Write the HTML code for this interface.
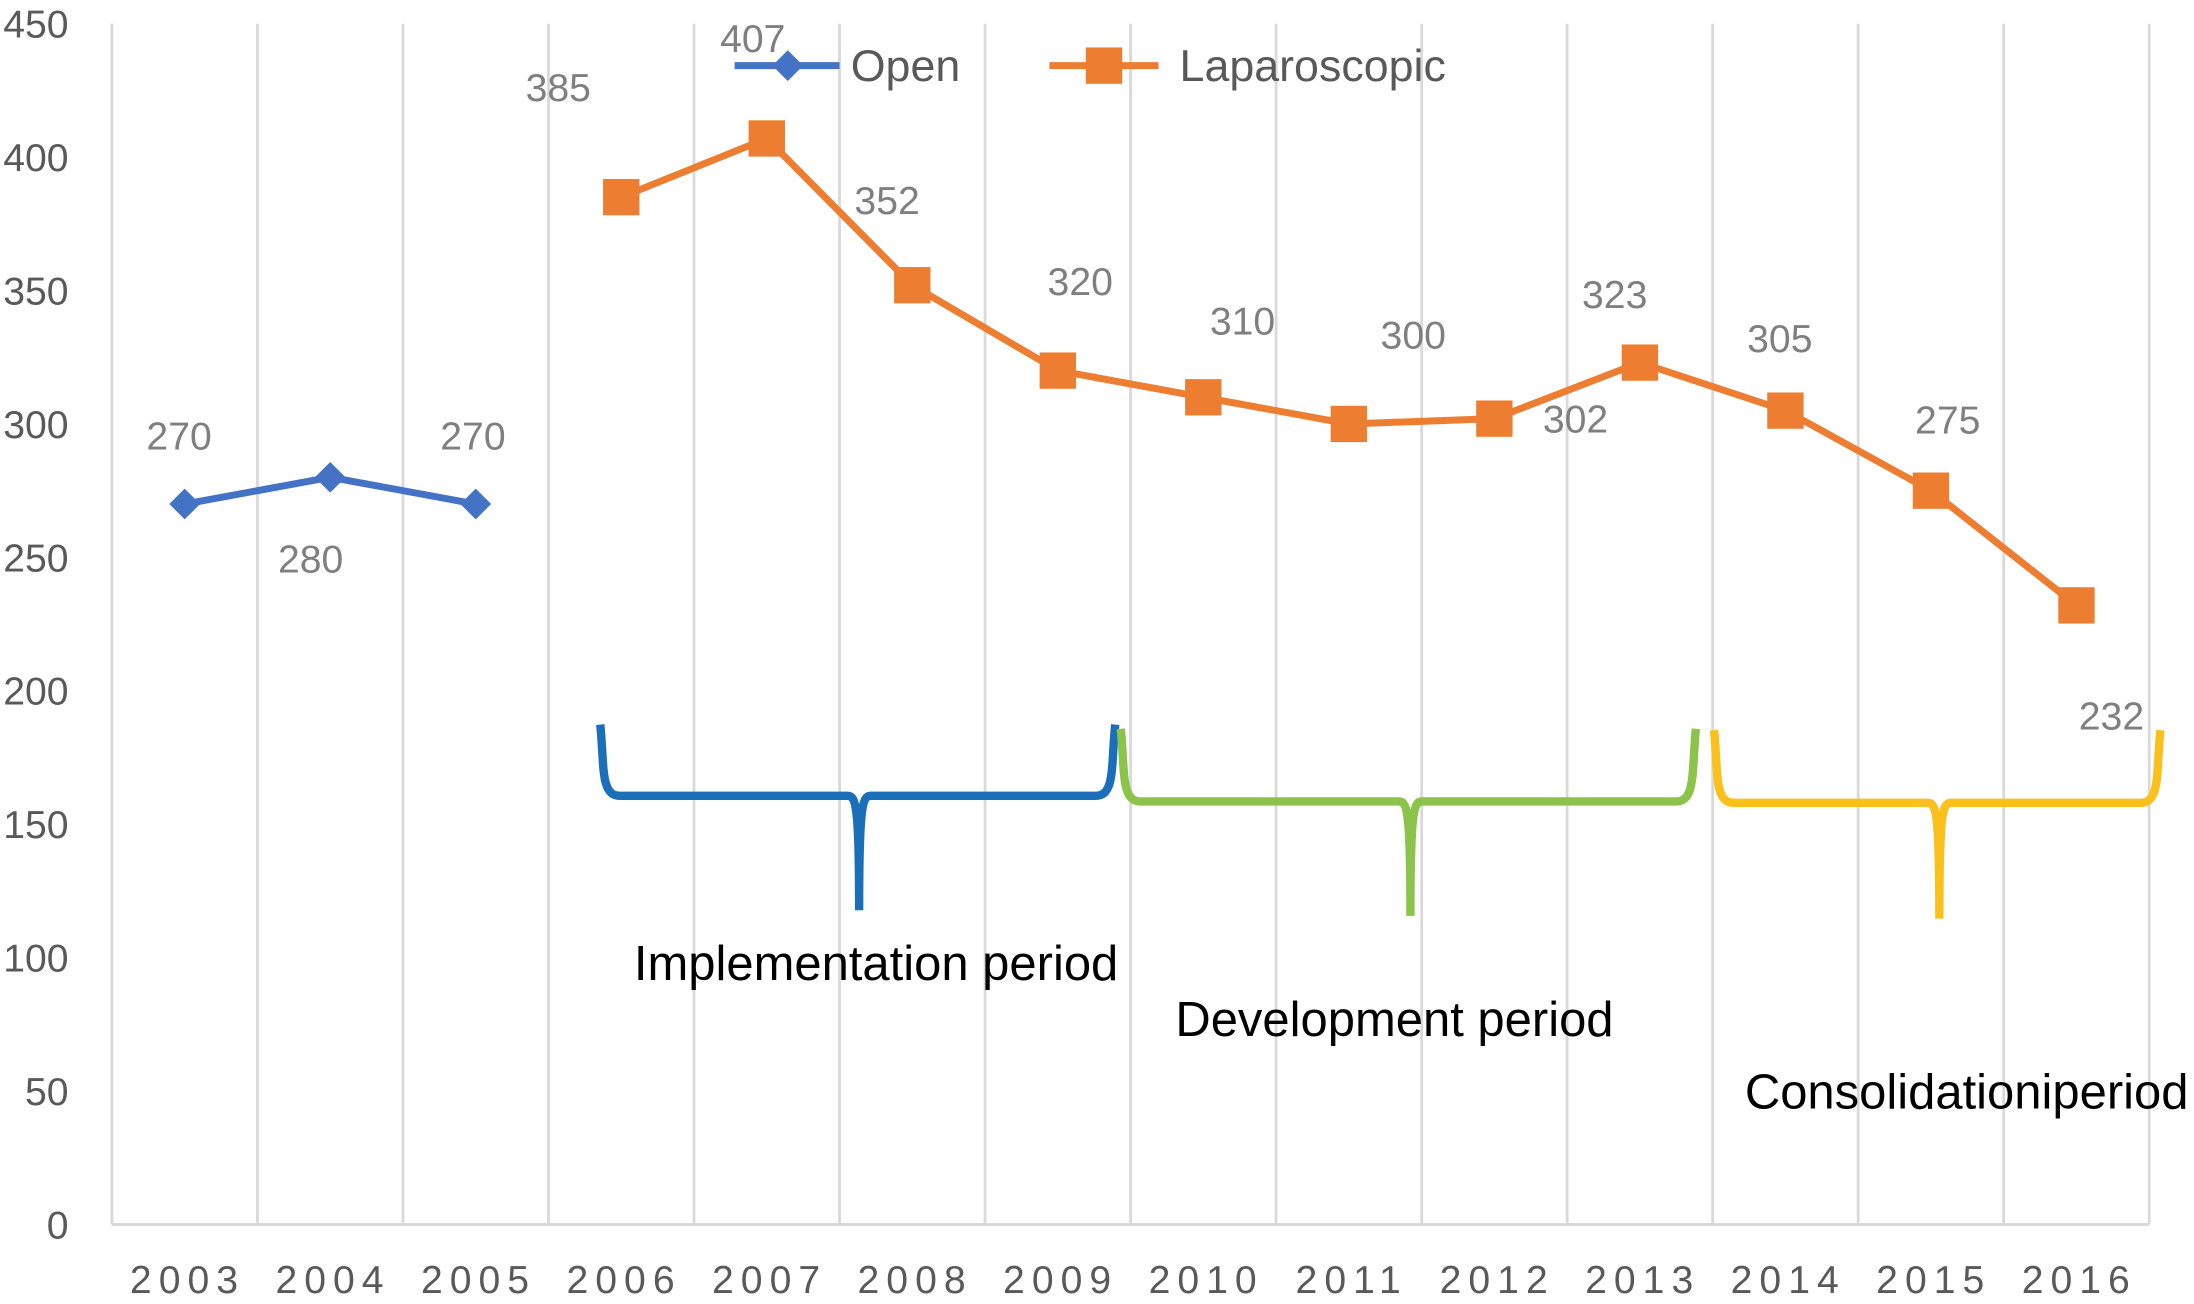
<!DOCTYPE html>
<html><head><meta charset="utf-8"><style>
html,body{margin:0;padding:0;background:#fff;}
svg{display:block;font-family:"Liberation Sans",Arial,sans-serif;}
</style></head><body>
<svg id="chart" width="2194" height="1304" viewBox="0 0 1568 934" preserveAspectRatio="none" xmlns="http://www.w3.org/2000/svg">
<g id="grid"></g><g id="axes"></g><g id="brackets"></g><g id="series"></g><g id="legend"></g>
</svg>
<script>
const years = ["2003","2004","2005","2006","2007","2008","2009","2010","2011","2012","2013","2014","2015","2016"];
const openYears = ["2003","2004","2005"];
const openValues = [270,280,270];
const lapYears = ["2006","2007","2008","2009","2010","2011","2012","2013","2014","2015","2016"];
const lapValues = [385,407,352,320,310,300,302,323,305,275,232];
const yTicks = [0,50,100,150,200,250,300,350,400,450];
const openLabelOffsets = [[-4,-39],[-14,68],[-2,-39]];
const lapLabelOffsets = [[-45,-79],[-10,-72],[-18,-61],[16,-64],[28,-55],[46,-64],[58,0],[-18,-49],[-4,-52],[12,-51],[25,79]];

const NS="http://www.w3.org/2000/svg";
const svg=document.getElementById('chart');
const X0=80, W=104, Y0=877, YPX=860/450;
const x=y=>X0+W*(years.indexOf(y)+0.5);
const yv=v=>Y0-v*YPX;
function mk(tag,attrs,parent,text){const e=document.createElementNS(NS,tag);for(const k in attrs)e.setAttribute(k,attrs[k]);if(text!==undefined)e.textContent=text;parent.appendChild(e);return e;}
const grid=document.getElementById('grid'),axes=document.getElementById('axes'),series=document.getElementById('series'),legend=document.getElementById('legend'),br=document.getElementById('brackets');

for(let i=0;i<=years.length;i++){
  const g=mk('line',{x1:X0+W*i,x2:X0+W*i,y1:17,y2:Y0,stroke:'#d9d9d9','stroke-width':2},grid);
  
  
}
const xa=mk('line',{x1:X0,x2:X0+W*years.length,y1:Y0,y2:Y0,stroke:'#d9d9d9','stroke-width':2},axes);


yTicks.forEach(t=>{
  const e=mk('text',{x:49,y:yv(t)+10,'text-anchor':'end','font-size':28,fill:'#595959'},axes,String(t));
  
  
});
years.forEach(yr=>{
  const e=mk('text',{x:x(yr)+2,y:926,'text-anchor':'middle','font-size':28,fill:'#595959','letter-spacing':5},axes,yr);
  
  
});

function bracket(x1,x2,xm,top,hy,tip,color,name){
  const d=`M${x1},${top} C${x1+3},${top+30} ${x1},${hy} ${x1+14},${hy} L${xm-8},${hy} C${xm-2},${hy} ${xm},${hy+10} ${xm},${tip} C${xm},${hy+10} ${xm+2},${hy} ${xm+8},${hy} L${x2-14},${hy} C${x2},${hy} ${x2-3},${top+30} ${x2},${top}`;
  const p=mk('path',{d:d,fill:'none',stroke:color,'stroke-width':6},br);
  
  
}
bracket(429,797,614,519,570,652,'#1a6fb8','implementation-bracket');
bracket(801,1212,1008,522,574,656,'#8cc34a','development-bracket');
bracket(1225,1544,1386,523,575,658,'#fbc01b','consolidation-bracket');
[["Implementation period",453,702,'implementation-label'],["Development period",840,742,'development-label'],["Consolidationiperiod",1247,794,'consolidation-label']].forEach(a=>{
  const e=mk('text',{x:a[1],y:a[2],'font-size':35,fill:'#000'},br,a[0]);
  
  
});

const op=mk('polyline',{points:openYears.map((y,i)=>x(y)+','+yv(openValues[i])).join(' '),fill:'none',stroke:'#4472c4','stroke-width':5},series);


openYears.forEach((y,i)=>{
  const cx=x(y),cy=yv(openValues[i]);
  const m=mk('polygon',{points:`${cx},${cy-11} ${cx+11},${cy} ${cx},${cy+11} ${cx-11},${cy}`,fill:'#4472c4'},series);
  
  
  const t=mk('text',{x:cx+openLabelOffsets[i][0],y:cy+openLabelOffsets[i][1],'text-anchor':'middle','font-size':28,fill:'#7f7f7f'},series,String(openValues[i]));
  
  
});
const lp=mk('polyline',{points:lapYears.map((y,i)=>x(y)+','+yv(lapValues[i])).join(' '),fill:'none',stroke:'#ed7d31','stroke-width':5},series);


lapYears.forEach((y,i)=>{
  const cx=x(y),cy=yv(lapValues[i]);
  const m=mk('rect',{x:cx-13,y:cy-13,width:26,height:26,fill:'#ed7d31'},series);
  
  
  const t=mk('text',{x:cx+lapLabelOffsets[i][0],y:cy+lapLabelOffsets[i][1]+10,'text-anchor':'middle','font-size':28,fill:'#7f7f7f'},series,String(lapValues[i]));
  
  
});

const l1=mk('line',{x1:525,x2:600,y1:47,y2:47,stroke:'#4472c4','stroke-width':5},legend);


const l1m=mk('polygon',{points:'563,36 574,47 563,58 552,47',fill:'#4472c4'},legend);


const l1t=mk('text',{x:608,y:58,'font-size':32,fill:'#595959'},legend,'Open');


const l2=mk('line',{x1:750,x2:828,y1:47,y2:47,stroke:'#ed7d31','stroke-width':5},legend);


const l2m=mk('rect',{x:776,y:34,width:26,height:26,fill:'#ed7d31'},legend);


const l2t=mk('text',{x:843,y:58,'font-size':32,fill:'#595959'},legend,'Laparoscopic');


</script>
</body></html>
